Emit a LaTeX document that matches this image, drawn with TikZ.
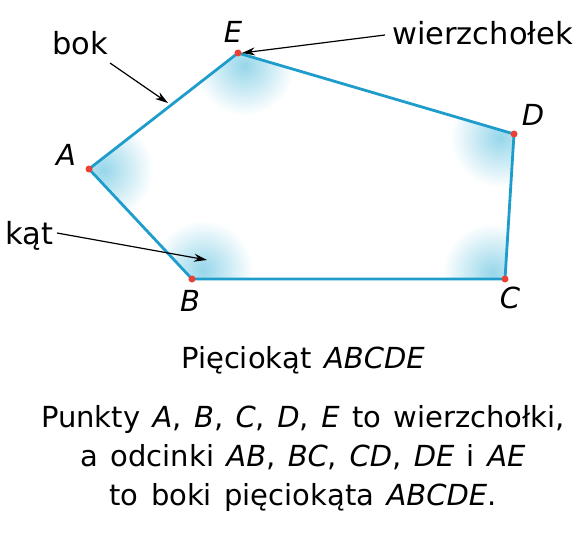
\documentclass[tikz,border=0pt]{standalone}
\usepackage{fontspec}
\setmainfont{DejaVu Sans}
\usetikzlibrary{calc,arrows.meta}
\definecolor{edgeblue}{RGB}{30,157,205}
\definecolor{vertred}{RGB}{235,64,52}
\definecolor{glowcyan}{RGB}{150,214,234}
\newcommand\mywidespace{\spaceskip 12.4pt\relax}
\newcommand\mytxtfont{\fontsize{29}{34}\selectfont\mywidespace}
\begin{document}
\begin{tikzpicture}[x=1pt,y=-1pt,
  lbl/.style={font=\fontsize{30.5}{36}\selectfont, inner sep=0pt},
  vlab/.style={font=\fontsize{29}{34}\selectfont\itshape, inner sep=0pt, anchor=base},
  callout/.style={-{Stealth[length=13pt,width=8pt]}, line width=1.2pt, black},
  txt/.style={font=\mytxtfont, inner sep=0pt, anchor=base}]
\useasboundingbox (0,0) rectangle (585,540);
\coordinate (A) at (89,169);
\coordinate (B) at (192,279);
\coordinate (C) at (505,279);
\coordinate (D) at (514,134);
\coordinate (E) at (238,53);
\coordinate (cen) at (306,185);
\begin{scope}
  \clip (A)--(B)--(C)--(D)--(E)--cycle;
  \foreach \v in {A,B,C,D,E}
    \shade[inner color=glowcyan, outer color=white] ($(\v)!14pt!(cen)$) circle[radius=50pt];
\end{scope}
\draw[edgeblue, line width=2.8pt, line join=miter] (A)--(B)--(C)--(D)--(E)--cycle;
\foreach \v in {A,B,C,D,E}
  \fill[vertred] (\v) circle[radius=3.5pt];
% vertex labels
\node[vlab] (lE) at (233,43) {E};
\node[vlab] (lA) at (66,165) {A};
\node[vlab] (lD) at (533,126) {D};
\node[vlab] (lB) at (190,311) {B};
\node[vlab] (lC) at (510,308) {C};
% callouts
\node[lbl, anchor=base west] (bok) at (52,55) {bok};
\node[lbl, anchor=base west] (wierz) at (392,45) {wierzchołek};
\node[lbl, anchor=base west] (kat) at (5,244) {kąt};
\coordinate (bokS) at (110,63);
\coordinate (bokT) at (168,103);
\coordinate (wS) at (385,35);
\coordinate (wT) at (242,53);
\coordinate (kS) at (57,233);
\coordinate (kT) at (207,260);
\draw[callout] (bokS) -- (bokT);
\draw[callout] (wS) -- (wT);
\draw[callout] (kS) -- (kT);
% text
\node[txt] (t1) at (303,368) {Pięciokąt \textit{ABCDE}};
\node[txt] (t2) at (303,427) {Punkty \textit{A}, \textit{B}, \textit{C}, \textit{D}, \textit{E} to wierzchołki,};
\node[txt] (t3) at (303,466) {a odcinki \textit{AB}, \textit{BC}, \textit{CD}, \textit{DE} i \textit{AE}};
\node[txt] (t4) at (303,505) {to boki pięciokąta \textit{ABCDE}.};
\end{tikzpicture}
\end{document}
